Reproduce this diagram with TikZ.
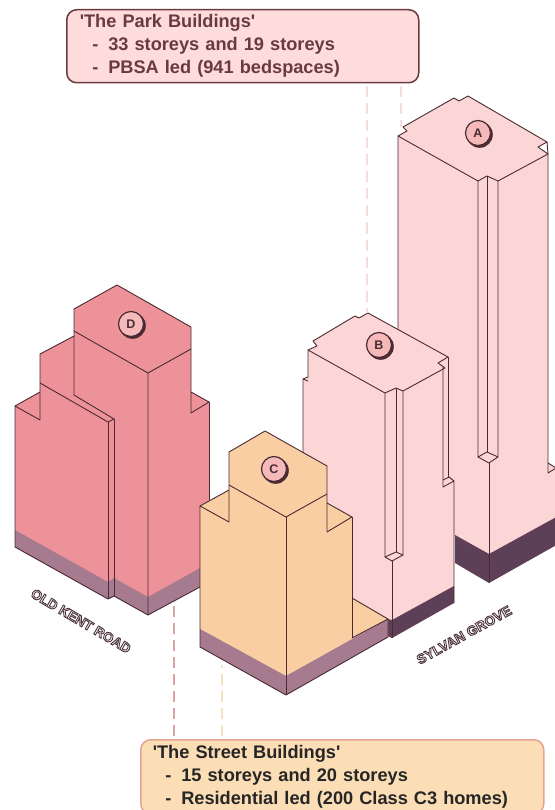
\documentclass[tikz,border=0pt]{standalone}
\usepackage{fontspec}
\setmainfont{Liberation Sans}
\newfontfamily\notefont{Liberation Sans}
\definecolor{edgecol}{HTML}{4A2B33}
\definecolor{parkfill}{HTML}{FCD6D6}
\definecolor{parkbase}{HTML}{5E3F58}
\definecolor{oldfill}{HTML}{EE9299}
\definecolor{streetfill}{HTML}{F9CEA2}
\definecolor{lowbase}{HTML}{A67B8F}
\definecolor{parktext}{HTML}{6A3A40}
\definecolor{parkbox}{HTML}{FDDCDB}
\definecolor{streetbox}{HTML}{FBDDB6}
\definecolor{streetedge}{HTML}{E6A392}
\definecolor{badgefill}{HTML}{F5B9BA}
\definecolor{leadrose}{HTML}{DDA3A3}
\definecolor{leadpale}{HTML}{F9DCDA}
\definecolor{leadsand}{HTML}{F6E0C4}
\newcommand{\listline}[1]{\hspace*{12.5pt}-\hspace{10pt}#1}
% white letters with a dark stroke round them
\newcommand{\roadname}[1]{\textcolor{white}{\special{pdf:code q 2 Tr 0.9 w 0.3 0.2 0.23 RG}#1\special{pdf:code Q}}}
\tikzset{
  wire/.style={draw=edgecol,line width=0.9pt,line join=round},
  lead/.style={line width=1.6pt,dash pattern=on 11pt off 6pt},
  infobox/.style={rounded corners=10pt,line width=1.5pt,anchor=north west,align=left,
    inner sep=0pt,font=\notefont\fontsize{18.2}{23}\selectfont\bfseries},
  badge/.style={circle,draw=edgecol,line width=1.2pt,fill=badgefill,minimum size=25pt,
    inner sep=0pt,font=\fontsize{12.5}{12.5}\selectfont\bfseries,text=edgecol},
  road/.style={font=\fontsize{13.6}{13.6}\selectfont\bfseries,inner sep=0pt}
}
\begin{document}
\begin{tikzpicture}[x=1pt,y=-1pt]
  \useasboundingbox (0,0) rectangle (554,810);
  \fill[white] (0,0) rectangle (554,810);
  % leaders sit under the towers, the free ends are hidden or stop short
  \coordinate (parkB) at (367,313);
  \coordinate (parkA) at (401,127);
  \coordinate (streetD) at (174,605);
  \coordinate (streetC) at (222,665);
  % tower A
  \fill[parkfill] (398,136) -- (407,131) -- (403,127) -- (454,98) -- (459,101) -- (468,96)
        -- (547,142) -- (538,147) -- (548,154) -- (548,463) -- (560,470) -- (560,520)
        -- (489,556) -- (398,505) -- cycle;
  \fill[parkbase] (455,535) -- (489,554) -- (560,515) -- (560,543) -- (489,583) -- (455,563) -- cycle;
  \draw[wire] (398,340) -- (398,136) -- (407,131) -- (403,127) -- (454,98) -- (459,101) -- (468,96)
        -- (547,142) -- (538,147) -- (548,154) -- (498,181) -- (487,176) -- (478,181) -- (398,136);
  \draw[wire] (547,142) -- (548,154) -- (548,473) -- (556,468);
  \draw[wire] (548,463) -- (556,468);
  \draw[wire] (478,181) -- (478,457) -- (489,463) -- (498,457) -- (498,181);
  \draw[wire] (487,176) -- (487,452);
  \draw[wire] (478,457) -- (487,452) -- (498,457);
  \draw[wire] (489,463) -- (489,583);
  % tower B
  \fill[parkfill] (308,350) -- (317,346) -- (313,341) -- (355,316) -- (359,318) -- (368,313)
        -- (448,357) -- (448,478) -- (454,481) -- (454,603) -- (392,638) -- (388,636)
        -- (388,619) -- (303,570) -- (303,381) -- (308,377) -- cycle;
  \fill[parkbase] (388,619) -- (392,620) -- (454,586) -- (454,603) -- (392,638) -- (388,636) -- cycle;
  \draw[wire] (303,460) -- (303,379) -- (308,377) -- (308,350) -- (317,346) -- (313,341) -- (355,316)
        -- (359,318) -- (368,313) -- (448,357) -- (438,363) -- (445,368) -- (403,391) -- (396,388)
        -- (385,393) -- (308,350);
  \draw[wire] (303,379) -- (308,381);
  \draw[wire] (448,357) -- (448,478);
  \draw[wire] (443,366) -- (443,487) -- (454,481) -- (454,603);
  \draw[wire] (443,480) -- (449,477) -- (454,481);
  \draw[wire] (385,393) -- (385,557) -- (392,561) -- (403,555) -- (403,391);
  \draw[wire] (396,388) -- (396,552);
  \draw[wire] (385,557) -- (396,552) -- (403,555);
  \draw[wire] (392,561) -- (392,638);
  % tower D
  \fill[oldfill] (117,285) -- (191,327) -- (191,392) -- (209,402) -- (209,565) -- (148,615)
        -- (114,596) -- (108,599) -- (15,547) -- (15,406) -- (40,392) -- (40,354) -- (74,336)
        -- (74,309) -- cycle;
  \fill[lowbase] (15,530) -- (108,582) -- (114,578) -- (148,597) -- (209,563) -- (209,582)
        -- (148,615) -- (114,596) -- (108,599) -- (15,547) -- cycle;
  \draw[wire] (74,331) -- (74,309) -- (117,285) -- (191,327) -- (191,413) -- (209,402)
        -- (191,392);
  \draw[wire] (209,402) -- (209,500);
  \draw[wire] (74,331) -- (148,373) -- (191,349);
  \draw[wire] (148,373) -- (148,615) -- (114,596) -- (108,599) -- (15,547) -- (15,406)
        -- (40,420) -- (40,354) -- (74,336);
  \draw[wire] (15,406) -- (40,392);
  \draw[wire] (40,383) -- (108,422) -- (114,419) -- (74,395) -- (74,331);
  \draw[wire] (108,422) -- (108,599);
  \draw[wire] (114,419) -- (114,596);
  \draw[wire] (148,615) -- (200,587);
  % tower C
  \fill[streetfill] (265,431) -- (327,466) -- (327,503) -- (352,517) -- (352,598) -- (388,619)
        -- (388,637) -- (286,695) -- (200,647) -- (200,506) -- (229,490) -- (229,452) -- cycle;
  \fill[lowbase] (200,629) -- (286,676) -- (388,619) -- (388,637) -- (286,695) -- (200,647) -- cycle;
  \draw[wire] (229,485) -- (229,452) -- (265,431) -- (327,466) -- (327,532) -- (352,517) -- (327,503);
  \draw[wire] (229,485) -- (286,517) -- (327,494);
  \draw[wire] (229,490) -- (200,506) -- (229,522) -- (229,485);
  \draw[wire] (352,517) -- (352,638);
  \draw[wire] (352,598) -- (388,619) -- (352,638);
  \draw[wire] (200,506) -- (200,647) -- (286,695) -- (388,637) -- (388,619);
  \draw[wire] (286,517) -- (286,695);
  % round letters on the roofs
  \foreach \name/\x/\y in {A/478/133, B/379/345, C/274/469, D/131/324}
     { \fill[edgecol] (\x+1.6,\y+1.6) circle (13.2pt);
       \node[badge] (badge\name) at (\x,\y) {\name}; }
  % road names
  \node[road,rotate=-30.5] (oldkent) at (81,621) {\roadname{OLD KENT ROAD}};
  \node[road,rotate=29] (sylvan) at (464,635) {\roadname{SYLVAN GROVE}};
  % the two captions
  \node[infobox,draw=parktext,fill=parkbox,text=parktext,minimum height=73pt,
        text width=326pt,inner xsep=13pt] (parknote) at (66,9)
        {'The Park Buildings'\\ \listline{33 storeys and 19 storeys}\\ \listline{PBSA led (941 bedspaces)}};
  \node[infobox,draw=streetedge,fill=streetbox,text=black!85,minimum height=74pt,
        text width=379pt,inner xsep=12pt] (streetnote) at (140,739)
        {'The Street Buildings'\\ \listline{15 storeys and 20 storeys}\\ \listline{Residential led (200 Class C3 homes)}};
  \draw[lead,leadpale,shorten <=3pt] (parknote.south -| parkB) -- (parkB);
  \draw[lead,leadpale,shorten <=3pt] (parknote.south -| parkA) -- (parkA);
  \draw[lead,leadrose,shorten <=3pt] (streetnote.north -| streetD) -- (streetD);
  \draw[lead,leadsand,shorten <=3pt] (streetnote.north -| streetC) -- (streetC);
\end{tikzpicture}
\end{document}
